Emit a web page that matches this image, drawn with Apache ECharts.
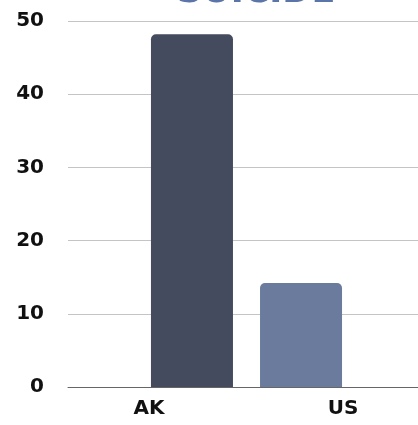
<!DOCTYPE html>
<html><head><meta charset="utf-8">
<script src="https://cdn.jsdelivr.net/npm/echarts@6/dist/echarts.min.js"></script>
<style>html,body{margin:0;padding:0;background:#fff}#c{width:418px;height:425px}</style>
</head><body><div id="c"></div>
<script>
const categories = ['AK', 'US'];
const seriesNames = ['AK', 'US'];
const values = [48.2, 14.2];
const colors = ['#454b5e', '#6a7b9e'];
const yTicks = { min: 0, max: 50, interval: 10 };

const chart = echarts.init(document.getElementById('c'), null, { renderer: 'canvas' });
const font = "'DejaVu Sans', sans-serif";
chart.setOption({
  animation: false,
  title: {
    text: 'SUICIDE', left: 177, top: -25, padding: 0,
    textStyle: { color: '#5b75a8', fontSize: 35, fontWeight: 'bold', fontFamily: font }
  },
  grid: [
    { left: 68, right: 0, top: 21, bottom: 38 },
    { left: 75, right: 0, top: 21, bottom: 38 }
  ],
  xAxis: [
    {
      type: 'category', gridIndex: 0, data: categories,
      axisLine: { lineStyle: { color: '#666', width: 1 } },
      axisTick: { show: false },
      axisLabel: {
        margin: 12, color: '#111', fontSize: 20, fontWeight: 'bold', fontFamily: font,
        formatter: (v, i) => i === 0 ? '{a|' + v + '}' : '{b|' + v + '}',
        rich: {
          a: { padding: [0, 13, 0, 0], color: '#111', fontSize: 20, fontWeight: 'bold', fontFamily: font },
          b: { padding: [0, 0, 0, 25], color: '#111', fontSize: 20, fontWeight: 'bold', fontFamily: font }
        }
      }
    },
    { type: 'category', gridIndex: 1, data: [''], show: false }
  ],
  yAxis: [
    {
      type: 'value', gridIndex: 0, min: yTicks.min, max: yTicks.max, interval: yTicks.interval,
      axisLine: { show: false }, axisTick: { show: false },
      splitLine: { lineStyle: { color: '#c4c4c4', width: 1 } },
      axisLabel: { margin: 24, color: '#111', fontSize: 20, fontWeight: 'bold', fontFamily: font }
    },
    { type: 'value', gridIndex: 1, min: yTicks.min, max: yTicks.max, show: false }
  ],
  series: seriesNames.map((n, i) => ({
    name: n, type: 'bar', xAxisIndex: 1, yAxisIndex: 1,
    data: [values[i]], barWidth: 82, barGap: '33%',
    itemStyle: { color: colors[i], borderRadius: [5, 5, 0, 0] }
  }))
});
</script></body></html>
